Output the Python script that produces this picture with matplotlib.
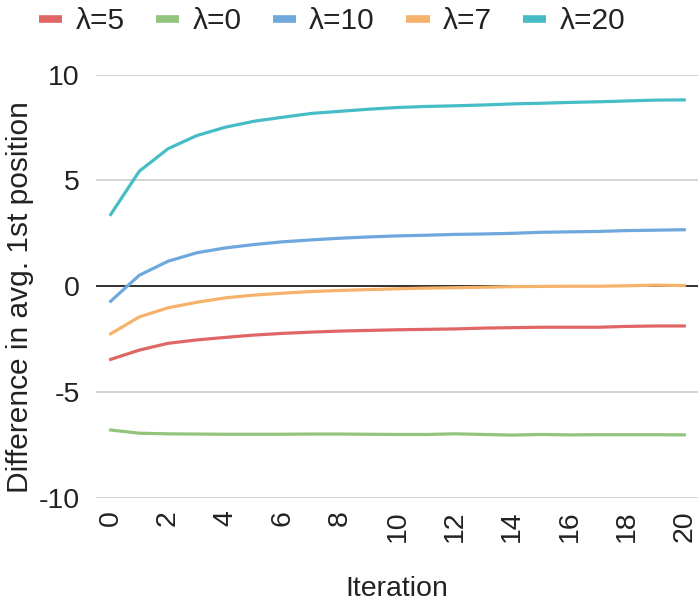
import numpy as np
import matplotlib
matplotlib.use("Agg")
import matplotlib.pyplot as plt
from matplotlib.lines import Line2D

plt.rcParams['font.family'] = ['Liberation Sans', 'DejaVu Sans']
plt.rcParams['axes.unicode_minus'] = False

# datos
iteraciones = list(range(21))
labels = ['λ=5', 'λ=0', 'λ=10', 'λ=7', 'λ=20']
colores = ['#e06666', '#93c47d', '#6fa8dc', '#f6b26b', '#46bdc6']

lam5 = [-3.46, -3.02, -2.70, -2.54, -2.42, -2.31, -2.23, -2.17, -2.12, -2.09, -2.06,
        -2.04, -2.02, -1.98, -1.96, -1.94, -1.94, -1.94, -1.90, -1.88, -1.88]
lam0 = [-6.80, -6.95, -6.98, -6.99, -7.00, -7.00, -7.00, -6.99, -6.99, -7.00, -7.01,
        -7.01, -6.98, -7.01, -7.04, -7.01, -7.03, -7.02, -7.02, -7.02, -7.03]
lam10 = [-0.71, 0.52, 1.18, 1.58, 1.81, 1.97, 2.10, 2.19, 2.27, 2.33, 2.38,
         2.41, 2.45, 2.47, 2.50, 2.55, 2.57, 2.59, 2.63, 2.65, 2.67]
lam7 = [-2.25, -1.45, -1.02, -0.76, -0.55, -0.42, -0.33, -0.25, -0.20, -0.16, -0.12,
        -0.09, -0.07, -0.05, -0.02, -0.01, 0.00, 0.00, 0.02, 0.05, 0.03]
lam20 = [3.39, 5.44, 6.50, 7.12, 7.52, 7.80, 7.99, 8.17, 8.27, 8.37, 8.45,
         8.50, 8.53, 8.57, 8.62, 8.65, 8.69, 8.72, 8.76, 8.80, 8.81]
series = [lam5, lam0, lam10, lam7, lam20]

fig = plt.figure(figsize=(6.98, 6.06), dpi=100)
ax = fig.add_axes([0.138, 0.1787, 0.862, 0.698])

ax.set_yticks([-10, -5, 0, 5, 10])
ax.grid(axis='y', color='#cccccc', linewidth=1.2)
ax.set_axisbelow(True)
ax.axhline(0, color='#333333', linewidth=1.4, zorder=2)

for y, c in zip(series, colores):
    ax.plot(iteraciones, y, color=c, linewidth=2.3, zorder=3)

ax.set_xlim(-0.5, 20.48)
ax.set_ylim(-10, 10)
ax.set_xticks(range(0, 21, 2))
for s in ax.spines.values():
    s.set_visible(False)
ax.tick_params(axis='both', length=0, labelsize=20.5, labelcolor='#222222')
ax.tick_params(axis='y', pad=12)
ax.tick_params(axis='x', pad=9, labelrotation=90)

fig.text(0.5 * (0.138 + 1.0), 1 - 589 / 606, 'Iteration', ha='center', va='center',
         fontsize=20.5, color='#222222')
fig.text(20 / 698, 1 - 297.5 / 606, 'Difference in avg. 1st position', rotation=90,
         ha='center', va='center', fontsize=21.5, color='#222222')

handles = [Line2D([0], [0], color=c, linewidth=5.5, solid_capstyle='butt') for c in colores]
fig.legend(handles, labels, loc='upper left', bbox_to_anchor=(0.039, 1.008), ncol=5,
           frameon=False, fontsize=21.5, handlelength=0.78, handletextpad=0.44,
           columnspacing=1.05, labelcolor='#222222', borderaxespad=0)

fig.savefig('out.png', dpi=100)
